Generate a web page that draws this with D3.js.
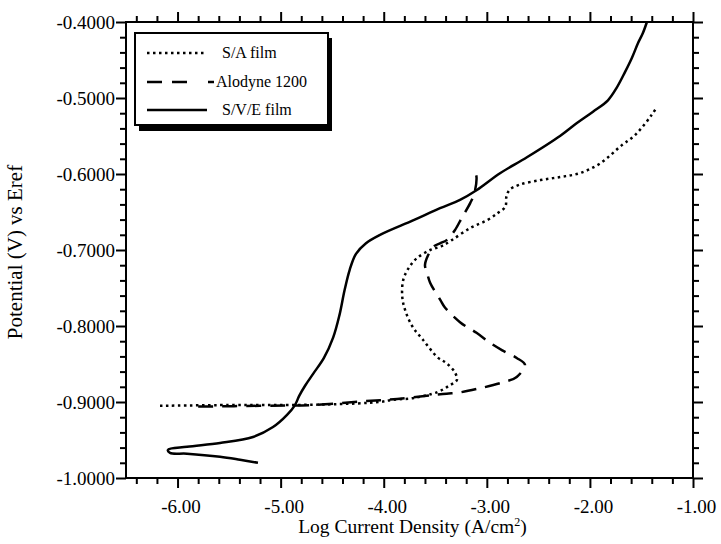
<!DOCTYPE html>
<html>
<head>
<meta charset="utf-8">
<script src="https://cdn.jsdelivr.net/npm/d3@7"></script>
<style>
  body { margin: 0; background: #fff; }
  svg { display: block; }
</style>
</head>
<body>
<script>
var width = 721;
var height = 544;

// series as [log current density, potential]
var saFilm = [
  [-6.17, -0.905], [-5.5, -0.904], [-5.0, -0.904], [-4.5, -0.903], [-4.04, -0.900],
  [-3.91, -0.897], [-3.72, -0.895], [-3.48, -0.887], [-3.36, -0.878], [-3.29, -0.871],
  [-3.31, -0.861], [-3.39, -0.849], [-3.48, -0.841], [-3.62, -0.818], [-3.72, -0.801],
  [-3.79, -0.780], [-3.82, -0.762], [-3.81, -0.739], [-3.75, -0.722], [-3.68, -0.711],
  [-3.55, -0.700], [-3.44, -0.695], [-3.34, -0.687], [-3.16, -0.671], [-3.00, -0.661],
  [-2.89, -0.651], [-2.82, -0.643], [-2.81, -0.630], [-2.78, -0.621], [-2.68, -0.614],
  [-2.48, -0.608], [-2.29, -0.604], [-2.10, -0.599], [-1.90, -0.586], [-1.69, -0.562],
  [-1.58, -0.551], [-1.49, -0.538], [-1.40, -0.522], [-1.35, -0.512]
];

var alodyne = [
  [-5.80, -0.906], [-5.2, -0.905], [-4.7, -0.904], [-4.20, -0.899], [-3.87, -0.896],
  [-3.39, -0.889], [-3.29, -0.888], [-3.07, -0.882], [-2.84, -0.874], [-2.71, -0.867],
  [-2.63, -0.851], [-2.71, -0.842], [-2.85, -0.832], [-2.97, -0.822], [-3.10, -0.809],
  [-3.26, -0.795], [-3.41, -0.775], [-3.45, -0.766], [-3.55, -0.743], [-3.58, -0.730],
  [-3.60, -0.720], [-3.57, -0.707], [-3.52, -0.696], [-3.45, -0.691], [-3.39, -0.687],
  [-3.31, -0.674], [-3.24, -0.657], [-3.16, -0.638], [-3.12, -0.625], [-3.10, -0.604],
  [-3.11, -0.599]
];

var sveFilm = [
  [-1.447, -0.400], [-1.486, -0.4145], [-1.534, -0.428], [-1.592, -0.447], [-1.660, -0.466],
  [-1.738, -0.486], [-1.825, -0.503], [-1.970, -0.518], [-2.126, -0.533], [-2.290, -0.550],
  [-2.611, -0.578], [-2.872, -0.599], [-3.096, -0.621], [-3.260, -0.634],
  [-3.454, -0.645], [-3.716, -0.661], [-4.036, -0.680], [-4.172, -0.691], [-4.269, -0.705],
  [-4.330, -0.726], [-4.380, -0.753], [-4.430, -0.786], [-4.490, -0.815], [-4.580, -0.842],
  [-4.680, -0.862], [-4.760, -0.878], [-4.820, -0.892], [-4.861, -0.904], [-4.938, -0.917],
  [-5.074, -0.933], [-5.268, -0.946], [-5.588, -0.954], [-5.908, -0.959], [-6.093, -0.963],
  [-6.073, -0.967], [-5.908, -0.968], [-5.588, -0.972], [-5.394, -0.976], [-5.220, -0.980]
];

var seriesNames = ["S/A film", "Alodyne 1200", "S/V/E film"];
var xMajor = [-6, -5, -4, -3, -2, -1];
var yMajor = [-1.0, -0.9, -0.8, -0.7, -0.6, -0.5, -0.4];

// minor ticks every 0.2 on x, 0.02 on y
var xMinor = d3.range(-32, -5).map(function(i) { return i / 5; })
  .filter(function(v) { return Math.abs(v - Math.round(v)) > 1e-6; });
var yMinor = d3.range(-50, -20).map(function(i) { return i / 50; })
  .filter(function(v) { return Math.abs(v * 10 - Math.round(v * 10)) > 1e-6; });

// plot box (window.top is read-only, so no bare "top")
var plotLeft = 126, plotRight = 693, plotTop = 22, plotBottom = 478;

var x = d3.scaleLinear().domain([-6.5, -1]).range([plotLeft, plotRight]);
var y = d3.scaleLinear().domain([-1.0, -0.4]).range([plotBottom, plotTop]);

var svg = d3.select("body").append("svg")
    .attr("width", width)
    .attr("height", height);

var serif = "'Liberation Serif', 'Times New Roman', serif";

function styleAxis(g) {
  g.attr("font-family", null);
  g.select(".domain").remove();
  g.selectAll(".tick line").attr("stroke", "#000").attr("stroke-width", 2);
  g.selectAll(".tick text")
    .attr("fill", "#000")
    .style("font-family", serif)
    .style("font-size", "19px");
}

// bottom axis
svg.append("g")
  .attr("transform", "translate(0," + plotBottom + ")")
  .call(d3.axisBottom(x).tickValues(xMajor).tickSize(10).tickPadding(12)
    .tickFormat(function(d) { return d.toFixed(2); }))
  .call(styleAxis)
  .selectAll(".tick text").attr("dx", 3);
svg.append("g")
  .attr("transform", "translate(0," + plotBottom + ")")
  .call(d3.axisBottom(x).tickValues(xMinor).tickSize(6).tickFormat(""))
  .call(styleAxis);

// top axis
svg.append("g")
  .attr("transform", "translate(0," + plotTop + ")")
  .call(d3.axisTop(x).tickValues(xMajor).tickSize(10).tickFormat(""))
  .call(styleAxis);
svg.append("g")
  .attr("transform", "translate(0," + plotTop + ")")
  .call(d3.axisTop(x).tickValues(xMinor).tickSize(6).tickFormat(""))
  .call(styleAxis);

// left axis
svg.append("g")
  .attr("transform", "translate(" + plotLeft + ",0)")
  .call(d3.axisLeft(y).tickValues(yMajor).tickSize(10).tickPadding(1)
    .tickFormat(function(d) { return d.toFixed(4); }))
  .call(styleAxis);
svg.append("g")
  .attr("transform", "translate(" + plotLeft + ",0)")
  .call(d3.axisLeft(y).tickValues(yMinor).tickSize(6).tickFormat(""))
  .call(styleAxis);

// right axis
svg.append("g")
  .attr("transform", "translate(" + plotRight + ",0)")
  .call(d3.axisRight(y).tickValues(yMajor).tickSize(10).tickFormat(""))
  .call(styleAxis);
svg.append("g")
  .attr("transform", "translate(" + plotRight + ",0)")
  .call(d3.axisRight(y).tickValues(yMinor).tickSize(6).tickFormat(""))
  .call(styleAxis);

// frame
svg.append("rect")
  .attr("x", plotLeft).attr("y", plotTop)
  .attr("width", plotRight - plotLeft).attr("height", plotBottom - plotTop)
  .attr("fill", "none")
  .attr("stroke", "#000")
  .attr("stroke-width", 2);

// axis titles
var xTitle = svg.append("text")
  .attr("x", (plotLeft + plotRight) / 2 + 3)
  .attr("y", 533)
  .attr("text-anchor", "middle")
  .style("font-family", serif)
  .style("font-size", "19.5px");
xTitle.append("tspan").text("Log Current Density (A/cm");
xTitle.append("tspan").attr("dy", -7).style("font-size", "12px").text("2");
xTitle.append("tspan").attr("dy", 7).text(")");

svg.append("text")
  .attr("transform", "translate(22," + ((plotTop + plotBottom) / 2 + 2) + ") rotate(-90)")
  .attr("text-anchor", "middle")
  .style("font-family", serif)
  .style("font-size", "21px")
  .text("Potential (V) vs Eref");

// curves
var line = d3.line()
  .curve(d3.curveCatmullRom.alpha(0.5))
  .x(function(d) { return x(d[0]); })
  .y(function(d) { return y(d[1]); });

var styles = [
  { data: saFilm, dash: "2.5,3.5" },
  { data: alodyne, dash: "15,9" },
  { data: sveFilm, dash: null }
];

svg.append("g").selectAll("path")
  .data(styles)
  .enter().append("path")
  .attr("d", function(d) { return line(d.data); })
  .attr("fill", "none")
  .attr("stroke", "#000")
  .attr("stroke-width", 2.5)
  .attr("stroke-linejoin", "round")
  .attr("stroke-dasharray", function(d) { return d.dash; });

// legend
var legend = svg.append("g");
legend.append("rect")
  .attr("x", 139).attr("y", 38).attr("width", 193).attr("height", 93)
  .attr("fill", "#000");
legend.append("rect")
  .attr("x", 135).attr("y", 33).attr("width", 193).attr("height", 92)
  .attr("fill", "#fff")
  .attr("stroke", "#000")
  .attr("stroke-width", 2);

var legendRows = [
  { y: 53, x2: 207, dash: "2.5,3.5", tx: 222 },
  { y: 82, x2: 214, dash: "15,10,15,21,6", tx: 216 },
  { y: 110, x2: 207, dash: null, tx: 222 }
];

legendRows.forEach(function(r, i) {
  legend.append("line")
    .attr("x1", 147).attr("x2", r.x2)
    .attr("y1", r.y).attr("y2", r.y)
    .attr("stroke", "#000")
    .attr("stroke-width", 2.5)
    .attr("stroke-dasharray", r.dash);
  legend.append("text")
    .attr("x", r.tx)
    .attr("y", r.y + 5)
    .style("font-family", serif)
    .style("font-size", "16px")
    .text(seriesNames[i]);
});
</script>
</body>
</html>
